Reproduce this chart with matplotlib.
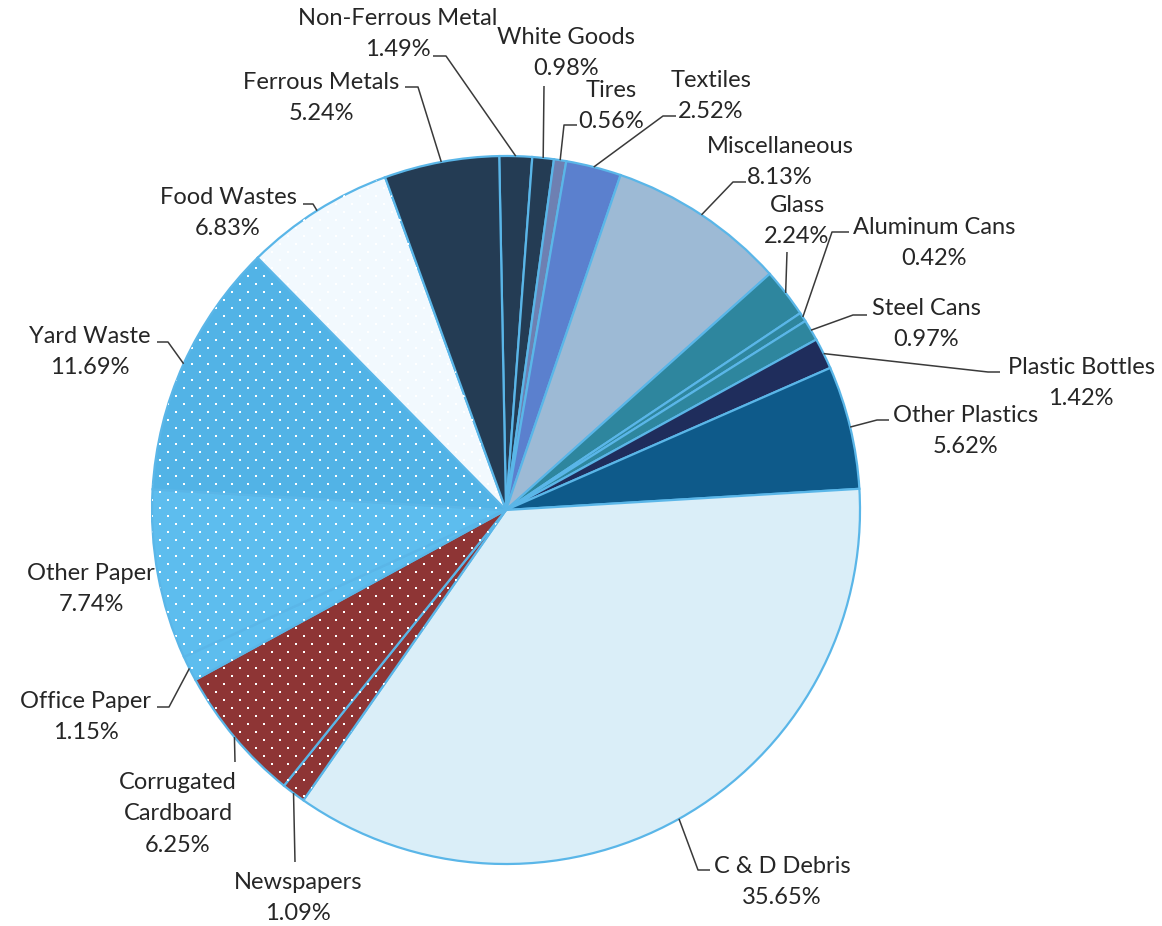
import numpy as np
import matplotlib
matplotlib.use("Agg")
import matplotlib.pyplot as plt

# ---------------- data ----------------
categories = ["Non-Ferrous Metal", "White Goods", "Tires", "Textiles", "Miscellaneous",
              "Glass", "Aluminum Cans", "Steel Cans", "Plastic Bottles", "Other Plastics",
              "C & D Debris", "Newspapers", "Corrugated Cardboard", "Office Paper",
              "Other Paper", "Yard Waste", "Food Wastes", "Ferrous Metals"]
shares = [1.49, 0.98, 0.56, 2.52, 8.13, 2.24, 0.42, 0.97, 1.42, 5.62,
          35.65, 1.09, 6.25, 1.15, 7.74, 11.69, 6.83, 5.24]

# ---------------- styles ----------------
slice_colors = ["#243C54", "#243C54", "#6E80B2", "#5B80CE", "#9DBAD5",
                "#2E869E", "#2E869E", "#2E869E", "#1F2D5C", "#0E5A8A",
                "#DAEEF8", "#8E3535", "#8E3535", "#5DBDEE",
                "#5DBDEE", "#52B3E6", "#F2F9FE", "#243C54"]
dotted = {"Newspapers", "Corrugated Cardboard", "Office Paper", "Other Paper",
          "Yard Waste", "Food Wastes"}
label_text = {"Corrugated Cardboard": "Corrugated\nCardboard"}

# label block centres and leader elbow points (pixel space)
label_pos = {
    "Non-Ferrous Metal": (398, 34), "White Goods": (566, 53), "Tires": (611, 106),
    "Textiles": (711, 96), "Miscellaneous": (780, 162), "Glass": (797, 221),
    "Aluminum Cans": (934, 243), "Steel Cans": (926, 324), "Plastic Bottles": (1081, 383),
    "Other Plastics": (966, 431), "C & D Debris": (782, 882), "Newspapers": (298, 898),
    "Corrugated Cardboard": (178, 814), "Office Paper": (86, 717), "Other Paper": (91, 589),
    "Yard Waste": (90, 352), "Food Wastes": (228, 213), "Ferrous Metals": (321, 98),
}
leader_elbows = {
    "Non-Ferrous Metal": [(433, 56), (446, 56)], "White Goods": [(544, 86)],
    "Tires": [(577, 125), (564, 125)], "Textiles": [(676, 116), (663, 116)],
    "Miscellaneous": [(746, 182), (733, 182)], "Glass": [(787, 252)],
    "Aluminum Cans": [(849, 232), (832, 232)], "Steel Cans": [(867, 315), (853, 315)],
    "Plastic Bottles": [(1000, 372), (988, 372)], "Other Plastics": [(889, 420), (877, 420)],
    "C & D Debris": [(710, 870), (698, 870)], "Newspapers": [(295, 862)],
    "Corrugated Cardboard": [(235, 762)], "Office Paper": [(157, 707), (169, 707)],
    "Other Paper": [], "Yard Waste": [(157, 342), (168, 342)],
    "Food Wastes": [(303, 204), (313, 204)], "Ferrous Metals": [(405, 87), (418, 87)],
}

W, H = 1162, 926
CX, CY, R = 506, 510, 354
EDGE = "#5AB6E8"
FONT = ["Lato", "DejaVu Sans"]
FS = 17
TXT = "#262626"

fig = plt.figure(figsize=(W / 100, H / 100), dpi=100)
ax = fig.add_axes([0, 0, 1, 1])

wedges, _ = ax.pie(shares, colors=slice_colors, startangle=268.9, counterclock=True,
                   center=(CX, CY), radius=R, frame=True,
                   wedgeprops=dict(edgecolor=EDGE, linewidth=1.6))
ax.set_xlim(0, W)
ax.set_ylim(H, 0)
ax.set_aspect("equal")
ax.axis("off")

# dotted fill pattern (staggered grid of small white dots)
gy = np.arange(CY - R - 8, CY + R + 8, 8.0)
pts_x, pts_y = [], []
for j, yy in enumerate(gy):
    off = 0 if j % 2 == 0 else 8
    xs = np.arange(CX - R - 16 + off, CX + R + 16, 16.0)
    pts_x.extend(xs)
    pts_y.extend([yy] * len(xs))
pts_x = np.array(pts_x)
pts_y = np.array(pts_y)

for w, name in zip(wedges, categories):
    if name in dotted:
        sc = ax.scatter(pts_x, pts_y, s=2.3, marker="s", c="white", linewidths=0, zorder=2)
        sc.set_clip_path(w)

for w in wedges:
    w.set_zorder(1)

# labels and leader lines
for w, name, val in zip(wedges, categories, shares):
    mid = np.deg2rad((w.theta1 + w.theta2) / 2.0)
    ex, ey = CX + R * np.cos(mid), CY + R * np.sin(mid)
    txt = label_text.get(name, name) + "\n" + f"{val:.2f}%"
    tx, ty = label_pos[name]
    ax.text(tx, ty, txt, ha="center", va="center", multialignment="center",
            fontsize=FS, family=FONT, color=TXT, linespacing=1.62, zorder=5)
    pts = leader_elbows[name]
    if pts:
        xs = [p[0] for p in pts] + [ex]
        ys = [p[1] for p in pts] + [ey]
        ax.plot(xs, ys, color="#3A3A3A", lw=1.1, zorder=4, solid_capstyle="butt")

fig.savefig("out.png", dpi=100)
